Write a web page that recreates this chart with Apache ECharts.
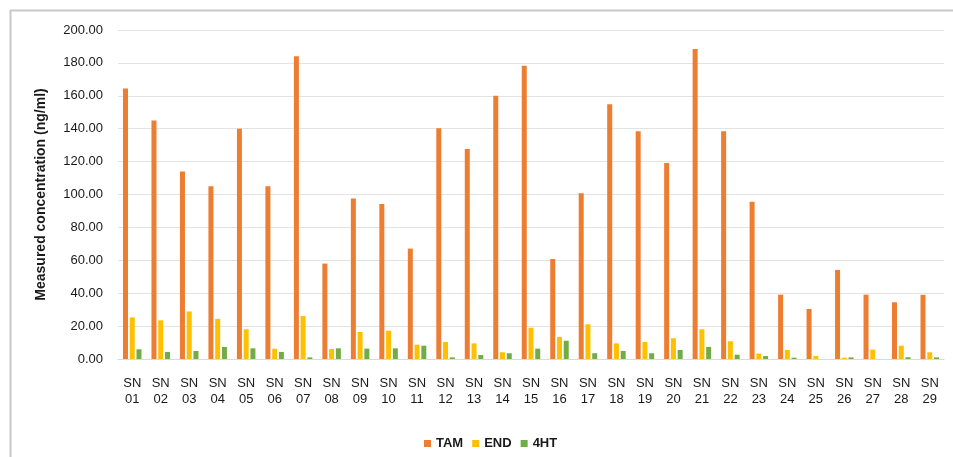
<!DOCTYPE html>
<html>
<head>
<meta charset="utf-8">
<script src="https://cdn.jsdelivr.net/npm/echarts@6/dist/echarts.min.js"></script>
<style>
html,body{margin:0;padding:0;background:#fff;}
#chart{width:953px;height:457px;}
</style>
</head>
<body>
<div id="chart"></div>
<script>
const categories = ['SN\n01','SN\n02','SN\n03','SN\n04','SN\n05','SN\n06','SN\n07','SN\n08','SN\n09','SN\n10',
  'SN\n11','SN\n12','SN\n13','SN\n14','SN\n15','SN\n16','SN\n17','SN\n18','SN\n19','SN\n20',
  'SN\n21','SN\n22','SN\n23','SN\n24','SN\n25','SN\n26','SN\n27','SN\n28','SN\n29'];
const tam = [164.5,145,114,105,140,105,184,58,97.5,94.2,67.1,140.2,127.7,160.1,178.3,60.8,100.7,154.8,138.4,119.1,188.4,138.4,95.6,39.1,30.4,54.1,39.1,34.5,39.0];
const endx = [25.3,23.5,28.9,24.4,18.1,6.2,26.1,6.1,16.4,17.2,8.7,10.3,9.5,4.1,19.0,13.4,21.1,9.5,10.3,12.6,18.1,10.8,3.3,5.5,1.8,0.8,5.7,8.1,4.1];
const ht4 = [5.9,4.3,4.9,7.3,6.5,4.3,1.0,6.5,6.3,6.5,8.1,1.0,2.4,3.5,6.3,11.1,3.5,4.9,3.5,5.5,7.3,2.6,1.8,0.8,0,1.0,0,1.1,1.0];
const seriesNames = ['TAM','END','4HT'];
const yName = 'Measured concentration (ng/ml)';

const FONT = '"Liberation Sans", Arial, sans-serif';
const chart = echarts.init(document.getElementById('chart'));
chart.setOption({
  animation: false,
  color: ['#ED7D31','#FFC000','#70AD47'],
  textStyle: {fontFamily: FONT},
  graphic: [{
    type: 'rect', left: 8, top: 8, silent: true,
    shape: {width: 960, height: 470},
    style: {fill: 'none', stroke: '#c8c8c8', lineWidth: 2}
  }],
  grid: {left: 118, right: 9, top: 30, bottom: 98},
  legend: {
    left: 419, top: 432,
    icon: 'rect', itemWidth: 7, itemHeight: 7, itemGap: 9,
    textStyle: {fontFamily: FONT, fontSize: 13, color: '#1a1a1a', fontWeight: 'bold'},
    data: seriesNames
  },
  xAxis: {
    type: 'category', data: categories,
    axisLine: {lineStyle: {color: '#d9d9d9', width: 1}},
    axisTick: {show: false},
    axisLabel: {interval: 0, margin: 16, fontSize: 13, lineHeight: 16, color: '#1a1a1a', fontFamily: FONT}
  },
  yAxis: {
    type: 'value', min: 0, max: 200, interval: 20,
    name: yName, nameLocation: 'middle', nameGap: 70, nameRotate: 90, nameMoveOverlap: false,
    nameTextStyle: {fontSize: 14, fontWeight: 'bold', color: '#1a1a1a', fontFamily: FONT},
    axisLine: {show: false}, axisTick: {show: false},
    axisLabel: {margin: 15, fontSize: 13, color: '#1a1a1a', fontFamily: FONT, formatter: v => v.toFixed(2)},
    splitLine: {lineStyle: {color: '#e3e3e3', width: 1}}
  },
  series: [
    {name: seriesNames[0], type: 'bar', data: tam, barWidth: 5, barGap: '35%'},
    {name: seriesNames[1], type: 'bar', data: endx, barWidth: 5, barGap: '35%'},
    {name: seriesNames[2], type: 'bar', data: ht4, barWidth: 5, barGap: '35%'}
  ]
});
</script>
</body>
</html>
